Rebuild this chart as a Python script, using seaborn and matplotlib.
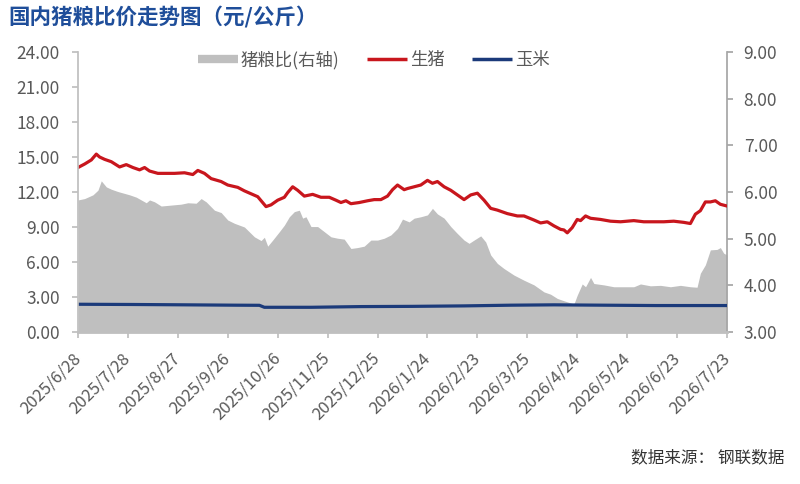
import pandas as pd
import matplotlib
matplotlib.use('Agg')
import matplotlib.pyplot as plt
from matplotlib.lines import Line2D
from matplotlib.ticker import FormatStrFormatter
import seaborn as sns

sns.set_theme(style='white')
plt.rcParams['font.family'] = ['Noto Sans CJK SC', 'DejaVu Sans']

# 生猪 (元/公斤, 左轴)
hog_dates = ['2025-06-28', '2025-07-02', '2025-07-06', '2025-07-09', '2025-07-11', '2025-07-14',
             '2025-07-18', '2025-07-23', '2025-07-27', '2025-07-31', '2025-08-04', '2025-08-07',
             '2025-08-10', '2025-08-15', '2025-08-25', '2025-08-31', '2025-09-05', '2025-09-08',
             '2025-09-12', '2025-09-16', '2025-09-22', '2025-09-26', '2025-10-02', '2025-10-06',
             '2025-10-14', '2025-10-19', '2025-10-22', '2025-10-26', '2025-10-30', '2025-11-01',
             '2025-11-04', '2025-11-07', '2025-11-11', '2025-11-16', '2025-11-21', '2025-11-26',
             '2025-11-30', '2025-12-03', '2025-12-06', '2025-12-09', '2025-12-14', '2025-12-19',
             '2025-12-23', '2025-12-27', '2025-12-31', '2026-01-03', '2026-01-06', '2026-01-10',
             '2026-01-12', '2026-01-16', '2026-01-20', '2026-01-24', '2026-01-27', '2026-01-30',
             '2026-02-03', '2026-02-07', '2026-02-11', '2026-02-15', '2026-02-19', '2026-02-23',
             '2026-02-27', '2026-03-03', '2026-03-07', '2026-03-13', '2026-03-19', '2026-03-23',
             '2026-03-29', '2026-04-02', '2026-04-06', '2026-04-10', '2026-04-14', '2026-04-16',
             '2026-04-18', '2026-04-21', '2026-04-24', '2026-04-26', '2026-04-29', '2026-05-02',
             '2026-05-08', '2026-05-14', '2026-05-20', '2026-05-28', '2026-06-03', '2026-06-09',
             '2026-06-15', '2026-06-21', '2026-06-27', '2026-07-01', '2026-07-04', '2026-07-07',
             '2026-07-10', '2026-07-13', '2026-07-16', '2026-07-19', '2026-07-23']
hog_price = [14.10, 14.40, 14.75, 15.25, 15.00, 14.80,
             14.60, 14.15, 14.35, 14.10, 13.90, 14.10,
             13.80, 13.60, 13.60, 13.65, 13.50, 13.85,
             13.60, 13.15, 12.90, 12.60, 12.40, 12.10,
             11.60, 10.75, 10.90, 11.30, 11.55, 11.95,
             12.45, 12.15, 11.65, 11.80, 11.55, 11.55,
             11.30, 11.10, 11.25, 11.00, 11.10, 11.25,
             11.35, 11.35, 11.65, 12.20, 12.60, 12.20,
             12.30, 12.45, 12.60, 13.00, 12.75, 12.90,
             12.45, 12.15, 11.75, 11.35, 11.75, 11.90,
             11.30, 10.60, 10.45, 10.15, 9.95, 9.95,
             9.60, 9.35, 9.45, 9.10, 8.80, 8.75,
             8.50, 8.95, 9.65, 9.55, 9.95, 9.75,
             9.65, 9.50, 9.45, 9.55, 9.45, 9.45,
             9.45, 9.50, 9.40, 9.30, 10.10, 10.40,
             11.15, 11.15, 11.25, 10.95, 10.80]

# 猪粮比 (右轴)
ratio_dates = ['2025-06-28', '2025-07-02', '2025-07-07', '2025-07-10', '2025-07-12', '2025-07-15',
               '2025-07-18', '2025-07-22', '2025-07-26', '2025-07-29', '2025-08-02', '2025-08-05',
               '2025-08-08', '2025-08-10', '2025-08-13', '2025-08-17', '2025-08-23', '2025-08-29',
               '2025-09-02', '2025-09-07', '2025-09-10', '2025-09-13', '2025-09-18', '2025-09-22',
               '2025-09-26', '2025-09-30', '2025-10-06', '2025-10-12', '2025-10-16', '2025-10-18',
               '2025-10-20', '2025-10-23', '2025-10-27', '2025-10-30', '2025-11-02', '2025-11-05',
               '2025-11-08', '2025-11-10', '2025-11-12', '2025-11-15', '2025-11-19', '2025-11-23',
               '2025-11-27', '2025-12-01', '2025-12-05', '2025-12-09', '2025-12-13', '2025-12-17',
               '2025-12-21', '2025-12-25', '2025-12-29', '2026-01-02', '2026-01-06', '2026-01-09',
               '2026-01-13', '2026-01-16', '2026-01-20', '2026-01-24', '2026-01-27', '2026-01-30',
               '2026-02-03', '2026-02-07', '2026-02-11', '2026-02-15', '2026-02-18', '2026-02-21',
               '2026-02-25', '2026-02-28', '2026-03-03', '2026-03-07', '2026-03-11', '2026-03-17',
               '2026-03-23', '2026-03-29', '2026-04-04', '2026-04-08', '2026-04-12', '2026-04-16',
               '2026-04-22', '2026-04-24', '2026-04-27', '2026-04-29', '2026-05-02', '2026-05-04',
               '2026-05-10', '2026-05-16', '2026-05-22', '2026-05-28', '2026-06-01', '2026-06-07',
               '2026-06-13', '2026-06-19', '2026-06-25', '2026-07-01', '2026-07-05', '2026-07-07',
               '2026-07-10', '2026-07-13', '2026-07-17', '2026-07-19', '2026-07-21', '2026-07-23']
ratio_value = [5.83, 5.86, 5.94, 6.04, 6.24, 6.11,
               6.06, 6.01, 5.97, 5.94, 5.89, 5.83,
               5.77, 5.83, 5.79, 5.70, 5.72, 5.74,
               5.77, 5.76, 5.86, 5.79, 5.61, 5.56,
               5.40, 5.33, 5.25, 5.04, 4.96, 5.03,
               4.84, 4.97, 5.15, 5.29, 5.47, 5.58,
               5.61, 5.44, 5.47, 5.26, 5.26, 5.15,
               5.04, 5.01, 4.99, 4.79, 4.81, 4.84,
               4.97, 4.97, 5.01, 5.08, 5.22, 5.42,
               5.36, 5.44, 5.47, 5.51, 5.65, 5.53,
               5.44, 5.26, 5.11, 4.97, 4.90, 4.97,
               5.06, 4.93, 4.65, 4.47, 4.36, 4.22,
               4.11, 4.01, 3.86, 3.81, 3.72, 3.67,
               3.60, 3.79, 4.03, 3.97, 4.17, 4.04,
               4.01, 3.97, 3.97, 3.97, 4.03, 3.99,
               4.00, 3.97, 4.00, 3.97, 3.96, 4.26,
               4.44, 4.76, 4.77, 4.81, 4.69, 4.65]

# 玉米 (元/公斤, 左轴)
corn_dates = ['2025-06-28', '2025-07-31', '2025-09-01', '2025-10-01', '2025-10-15', '2025-10-18',
              '2025-11-15', '2025-12-15', '2026-01-15', '2026-02-15', '2026-03-15', '2026-04-10',
              '2026-05-10', '2026-06-10', '2026-07-23']
corn_price = [2.38, 2.36, 2.33, 2.30, 2.29, 2.12,
              2.12, 2.18, 2.20, 2.24, 2.30, 2.33,
              2.30, 2.27, 2.27]

legend_labels = ['猪粮比(右轴)', '生猪', '玉米']
tick_dates = pd.date_range('2025-06-28', '2026-07-23', freq='30D')

hog = pd.DataFrame({'date': pd.to_datetime(hog_dates), 'price': hog_price})
ratio = pd.DataFrame({'date': pd.to_datetime(ratio_dates), 'value': ratio_value})
corn = pd.DataFrame({'date': pd.to_datetime(corn_dates), 'price': corn_price})

RED = '#C8161D'
NAVY = '#1B3A7A'
GRAY = '#BFBFBF'
TXT = '#595959'

fig = plt.figure(figsize=(8, 4.84), dpi=100)
ax = fig.add_axes([0.0975, 0.314, 0.81125, 0.5785])
ax2 = ax.twinx()

# 面积图画在右轴, 折线在左轴并置于上层
ax2.fill_between(ratio['date'], ratio['value'], 3, color=GRAY, lw=0)
ax.set_zorder(ax2.get_zorder() + 1)
ax.patch.set_visible(False)

sns.lineplot(data=corn, x='date', y='price', ax=ax, color=NAVY, lw=2.3)
sns.lineplot(data=hog, x='date', y='price', ax=ax, color=RED, lw=2.3)

ax.set_xlim(pd.Timestamp('2025-06-28'), pd.Timestamp('2026-07-23'))
ax.set_ylim(0, 24)
ax.set_yticks(range(0, 25, 3))
ax2.set_ylim(3, 9)
ax2.set_yticks(range(3, 10))
ax.yaxis.set_major_formatter(FormatStrFormatter('%.2f'))
ax2.yaxis.set_major_formatter(FormatStrFormatter('%.2f'))
ax.set_xticks(tick_dates)
ax.set_xticklabels([f'{d.year}/{d.month}/{d.day}' for d in tick_dates],
                   rotation=45, ha='right', va='center', rotation_mode='anchor')
ax.set_xlabel('')
ax.set_ylabel('')

for a in (ax, ax2):
    a.spines['top'].set_visible(False)
    a.grid(False)
ax.spines['left'].set_color('#BFBFBF')
ax.spines['right'].set_visible(False)
ax.spines['bottom'].set_color('#BFBFBF')
ax.spines['bottom'].set_linewidth(2)
ax2.spines['left'].set_visible(False)
ax2.spines['bottom'].set_visible(False)
ax2.spines['right'].set_color('#A6A6A6')

ax.tick_params(axis='x', bottom=True, length=4, color='#BFBFBF', labelsize=12, labelcolor=TXT, pad=13)
ax.tick_params(axis='y', left=True, length=4, color='#BFBFBF', labelsize=12.5, labelcolor=TXT, pad=9)
ax2.tick_params(axis='y', right=True, length=4, color='#A6A6A6', labelsize=12.5, labelcolor=TXT, pad=8)

handles = [Line2D([], [], color=GRAY, lw=6, solid_capstyle='butt'),
           Line2D([], [], color=RED, lw=2.5, solid_capstyle='butt'),
           Line2D([], [], color=NAVY, lw=2.5, solid_capstyle='butt')]
fig.legend(handles, legend_labels, loc='center', bbox_to_anchor=(0.4675, 0.876), ncol=3,
           frameon=False, fontsize=12.5, handlelength=2.3, handletextpad=0.15,
           columnspacing=1.6, labelcolor=TXT)

fig.text(0.01, 0.963, '国内猪粮比价走势图（元/公斤）', fontsize=15.5, fontweight='bold',
         color='#1F4E9A', va='center', ha='left')
fig.text(0.981, 0.054, '数据来源： 钢联数据', fontsize=12, color='#333333', ha='right', va='center')

fig.savefig('out.png', dpi=100)
